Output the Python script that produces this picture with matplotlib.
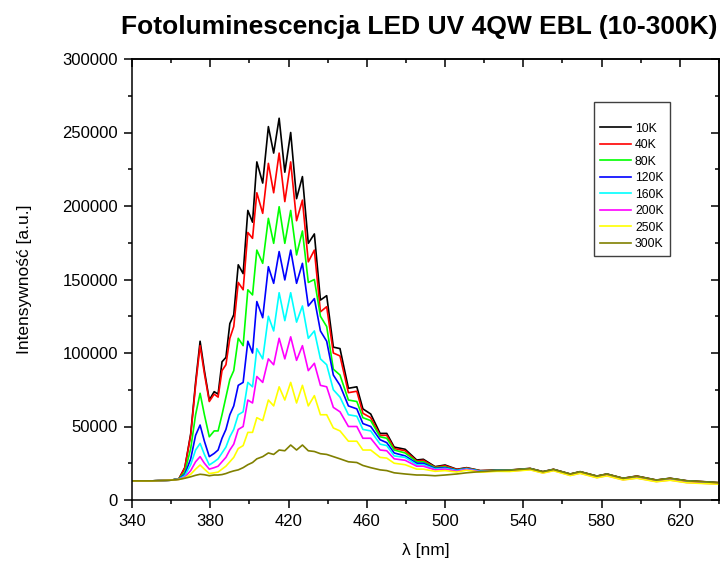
"""Fotoluminescencja LED UV 4QW EBL - widma 10-300K"""
import matplotlib
matplotlib.use('Agg')
import matplotlib.pyplot as plt
from matplotlib.ticker import MultipleLocator

plt.rcParams['font.family'] = ['Liberation Sans', 'DejaVu Sans']

# dlugosc fali [nm] - wspolna siatka dla wszystkich widm
wl = [340, 350, 360, 364, 367, 370, 372.5, 374.8, 377, 379.5,
      382, 384, 386, 388, 390, 392, 394.3, 396.8, 399.2, 401.6,
      403.8, 406.8, 409.7, 412.4, 415.2, 418.1, 421.1, 424.1, 427.1, 430.1,
      433.2, 436.3, 439.5, 442.9, 446.3, 450.6, 454.9, 458, 462, 466.8,
      470.2, 474, 479.6, 485.5, 488.9, 494.9, 500, 506, 511, 518,
      526.5, 533, 543.5, 550, 555.4, 564, 569, 577.6, 582.7, 591,
      598, 608, 615, 623.6, 632, 640]

k10 = [13000, 13000, 13500, 14500, 22000, 45000, 80000, 108000, 88000, 68000,
       73700, 72000, 94000, 97000, 120000, 126000, 160000, 154000, 197000, 189000,
       230000, 215600, 254000, 236000, 259700, 223000, 250000, 205000, 220000, 174600,
       181000, 136000, 139000, 104000, 103000, 76000, 77000, 62000, 58500, 45300,
       45300, 36000, 34500, 27200, 27700, 22700, 23800, 20900, 22000, 20000,
       20400, 20400, 21500, 19300, 20900, 17700, 19300, 16300, 17700, 14800,
       16300, 13600, 14800, 13100, 12500, 11800]

k40 = [13000, 13000, 13500, 14500, 22000, 44000, 78000, 105000, 86000, 67000,
       72000, 70000, 88000, 92000, 110000, 118000, 148000, 143000, 182000, 178000,
       209000, 195000, 229000, 209000, 236000, 203000, 230000, 190000, 204000, 162000,
       170000, 128000, 131500, 100000, 98000, 73000, 74000, 59000, 56000, 44000,
       44000, 35000, 33500, 26500, 27000, 22300, 23300, 20700, 21800, 19900,
       20300, 20300, 21400, 19200, 20800, 17600, 19200, 16200, 17600, 14700,
       16200, 13500, 14700, 13000, 12400, 11700]

k80 = [13000, 13000, 13500, 14500, 19000, 35000, 58000, 72600, 58000, 43000,
       47000, 47000, 58000, 70000, 82000, 88000, 110000, 105000, 143000, 139500,
       170000, 161000, 191600, 174600, 199500, 174600, 197000, 166700, 183000, 148000,
       150000, 125000, 118000, 89000, 85000, 68000, 67000, 56000, 54000, 43000,
       42000, 34000, 32000, 26000, 26000, 22000, 22500, 20300, 21500, 19700,
       20200, 20200, 21300, 19100, 20700, 17500, 19100, 16100, 17500, 14600,
       16000, 13400, 14600, 12900, 12300, 11600]

k120 = [13000, 13000, 13500, 14300, 17500, 28000, 44000, 51000, 40000, 29500,
        31700, 34000, 42000, 48000, 58000, 64000, 78000, 80000, 108000, 100000,
        135000, 124000, 158700, 147400, 169000, 149700, 170000, 147400, 161000, 132000,
        137000, 115000, 108000, 85000, 78000, 64000, 62000, 52000, 50000, 41000,
        39000, 32000, 30000, 25000, 25000, 21500, 22000, 20200, 21300, 19600,
        20100, 20100, 21200, 19000, 20600, 17400, 19000, 16000, 17400, 14500,
        15900, 13300, 14500, 12800, 12200, 11500]

k160 = [13000, 13000, 13500, 14200, 16500, 24000, 34000, 38500, 31000, 23800,
        26000, 28000, 32000, 36000, 43000, 48000, 58000, 60000, 80000, 77000,
        103000, 96000, 125000, 115000, 141000, 122000, 141000, 121000, 132000, 110000,
        115000, 96000, 92000, 75000, 70000, 58000, 57000, 48000, 47000, 38000,
        37000, 30000, 29000, 24000, 24000, 21000, 21500, 20000, 21100, 19500,
        20000, 20000, 21100, 18900, 20500, 17300, 18900, 15900, 17300, 14400,
        15800, 13200, 14400, 12700, 12100, 11400]

k200 = [13000, 13000, 13500, 14100, 15500, 20000, 26000, 29500, 25000, 21000,
        22000, 23000, 26000, 29000, 34000, 38000, 48000, 50000, 68000, 66000,
        84000, 80000, 96000, 92000, 110000, 96000, 111000, 95000, 105000, 88000,
        93000, 78000, 77000, 63000, 60000, 50000, 50000, 42000, 42000, 34000,
        33500, 28000, 27000, 23000, 23000, 20500, 21000, 19500, 20800, 19200,
        19800, 19600, 20700, 18500, 20100, 16800, 18300, 15300, 16600, 13800,
        15000, 12600, 13600, 11900, 11400, 10900]

k250 = [13000, 13000, 13500, 14000, 15000, 17500, 21000, 23800, 21000, 18000,
        18500, 19000, 21000, 23000, 26000, 29000, 35000, 37000, 46000, 46000,
        56000, 54000, 68000, 64000, 77000, 68000, 80000, 66000, 78000, 64000,
        71000, 58000, 58000, 49000, 47000, 40000, 40000, 34000, 34000, 29000,
        28500, 25000, 24000, 21000, 21000, 19500, 20000, 19000, 20300, 18900,
        19500, 19400, 20500, 18300, 19900, 16600, 18100, 15100, 16400, 13600,
        14800, 12400, 13400, 11700, 11200, 10700]

k300 = [13000, 13000, 13500, 14000, 14800, 15800, 16800, 17500, 17200, 16500,
        17000, 17000, 17300, 18000, 19000, 19800, 20500, 22000, 24000, 25500,
        28000, 29500, 32000, 31000, 34000, 33500, 37400, 34000, 37400, 33500,
        33000, 31500, 31000, 29500, 28000, 26000, 25500, 23500, 22000, 20500,
        20000, 18500, 17700, 17000, 17000, 16500, 17000, 17700, 18500, 19300,
        20000, 20200, 21300, 19200, 20700, 17600, 19200, 16200, 17600, 14700,
        16100, 13500, 14700, 13000, 12400, 11700]

labels = ['10K', '40K', '80K', '120K', '160K', '200K', '250K', '300K']
colors = ['#000000', '#ff0000', '#00ff00', '#0000ff',
          '#00ffff', '#ff00ff', '#ffff00', '#808000']
series = [k10, k40, k80, k120, k160, k200, k250, k300]

fig = plt.figure(figsize=(7.26, 5.72), dpi=100)
ax = fig.add_axes([132 / 726, 1 - 500 / 572, 587 / 726, 441 / 572])

for y, c, lab in zip(series, colors, labels):
    ax.plot(wl, y, color=c, linewidth=1.2, label=lab, solid_joinstyle='round')

ax.set_xlim(340, 640)
ax.set_ylim(0, 300000)
ax.xaxis.set_major_locator(MultipleLocator(40, offset=20))
ax.xaxis.set_minor_locator(MultipleLocator(20))
ax.yaxis.set_major_locator(MultipleLocator(50000))
ax.yaxis.set_minor_locator(MultipleLocator(25000))

for sp in ax.spines.values():
    sp.set_linewidth(1.1)

ax.tick_params(which='both', direction='out', width=1.1, labelsize=12, pad=4)
ax.tick_params(which='major', length=6)
ax.tick_params(which='minor', length=3)

# gorna i prawa os - znaczniki do srodka, bez opisow
top = ax.secondary_xaxis('top')
top.xaxis.set_major_locator(MultipleLocator(40, offset=20))
top.xaxis.set_minor_locator(MultipleLocator(20))
top.tick_params(which='both', direction='in', width=1.1, labeltop=False)
top.tick_params(which='major', length=6)
top.tick_params(which='minor', length=3)
right = ax.secondary_yaxis('right')
right.yaxis.set_major_locator(MultipleLocator(50000))
right.yaxis.set_minor_locator(MultipleLocator(25000))
right.tick_params(which='both', direction='in', width=1.1, labelright=False)
right.tick_params(which='major', length=6)
right.tick_params(which='minor', length=3)
for sec in (top, right):
    for sp in sec.spines.values():
        sp.set_linewidth(1.1)

ax.set_xlabel('λ [nm]', fontsize=12.5, labelpad=10)
ax.set_ylabel('Intensywność [a.u.]', fontsize=12.5, labelpad=22)

fig.text(419.5 / 726, 1 - 34 / 572, 'Fotoluminescencja LED UV 4QW EBL (10-300K)',
         ha='center', va='baseline', fontsize=19, fontweight='bold')

leg = ax.legend(loc='upper left', bbox_to_anchor=(594 / 726, 1 - 102 / 572),
                bbox_transform=fig.transFigure, borderaxespad=0,
                fontsize=8.8, title=' ', title_fontsize=7,
                handlelength=2.5, handletextpad=0.35, labelspacing=0.37,
                borderpad=0.5, fancybox=False, framealpha=1)
leg.get_frame().set_edgecolor('#404040')
leg.get_frame().set_linewidth(1.0)

fig.savefig('out.png', dpi=100)
